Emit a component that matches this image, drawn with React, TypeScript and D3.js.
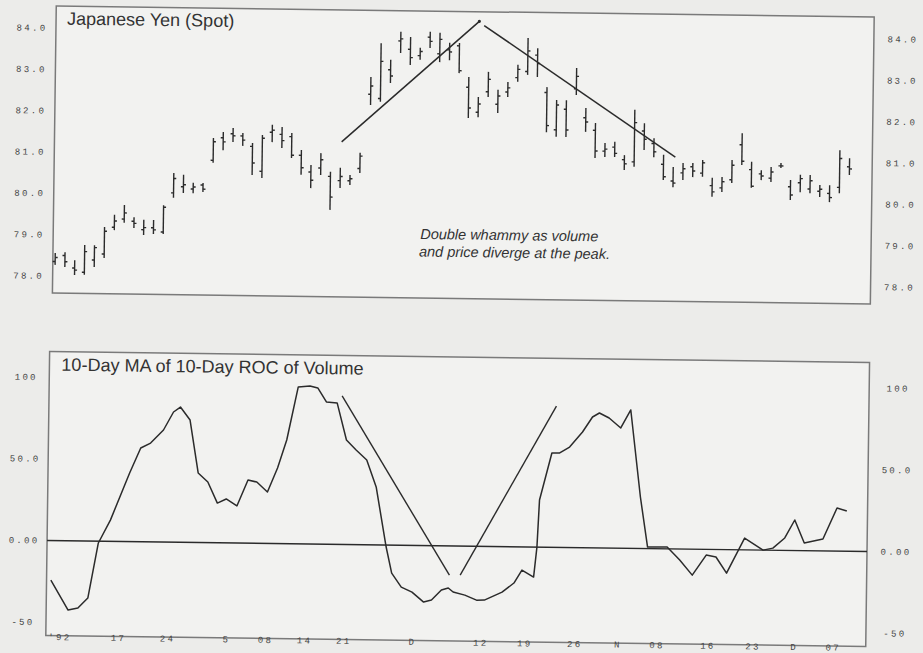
import * as d3 from "d3";

const WIDTH = 923;
const HEIGHT = 653;
// the scanned page sits a little crooked, so the whole drawing is turned a bit
const TILT = 0.77;

// Japanese Yen (Spot) daily bars
const highs = [78.56, 78.58, 78.39, 78.76, 78.76, 79.2, 79.5, 79.74, 79.45, 79.39,
  79.39, 79.75, 80.53, 80.49, 80.3, 80.3, 81.39, 81.54, 81.64, 81.52,
  81.28, 81.48, 81.73, 81.68, 81.54, 81.13, 80.77, 81.06, 80.61, 80.71,
  80.54, 81.08, 82.92, 83.74, 83.34, 84.02, 83.9, 83.64, 84.03, 84.01,
  83.77, 83.77, 82.95, 82.47, 83.08, 82.65, 82.84, 83.26, 83.91, 83.67,
  82.73, 82.42, 82.42, 83.2, 82.24, 81.88, 81.4, 81.43, 81.11, 82.21,
  81.89, 81.53, 81.13, 80.84, 80.94, 80.94, 81.02, 80.59, 80.61, 81.03,
  81.68, 80.99, 80.79, 80.87, 80.97, 80.56, 80.69, 80.69, 80.45, 80.45,
  81.3, 81.11];
const lows = [78.27, 78.22, 78.03, 78.04, 78.23, 78.45, 79.13, 79.31, 79.19, 79.02,
  79.05, 79.05, 79.93, 80.05, 80.05, 80.08, 80.79, 81.1, 81.3, 81.21,
  80.51, 80.44, 81.31, 81.17, 80.93, 80.53, 80.21, 80.53, 79.69, 80.22,
  80.3, 80.59, 82.24, 82.32, 82.78, 83.51, 83.22, 83.35, 83.64, 83.3,
  83.35, 83.04, 81.96, 81.98, 82.47, 82.09, 82.48, 82.85, 83.02, 82.97,
  81.64, 81.53, 81.53, 82.55, 81.66, 81.03, 81.06, 81.06, 80.75, 80.83,
  81.24, 81.07, 80.52, 80.35, 80.53, 80.6, 80.61, 80.13, 80.25, 80.47,
  80.91, 80.36, 80.55, 80.51, 80.85, 80.08, 80.27, 80.25, 80.16, 80.04,
  80.26, 80.7];
const opens = [78.35, 78.5, 78.2, 78.1, 78.4, 78.55, 79.2, 79.4, 79.35, 79.15,
  79.2, 79.1, 80.05, 80.2, 80.15, 80.25, 80.85, 81.4, 81.5, 81.45,
  81.2, 80.6, 81.55, 81.5, 81.45, 81.0, 80.6, 80.7, 80.5, 80.4,
  80.4, 80.7, 82.5, 82.4, 83.1, 83.8, 83.6, 83.45, 83.9, 83.5,
  83.6, 83.7, 82.7, 82.1, 82.6, 82.3, 82.6, 82.95, 83.1, 83.5,
  82.6, 81.7, 82.2, 82.7, 82.0, 81.7, 81.2, 81.3, 81.0, 80.95,
  81.7, 81.4, 80.9, 80.5, 80.7, 80.85, 80.7, 80.4, 80.35, 80.55,
  81.4, 80.8, 80.7, 80.6, 80.9, 80.4, 80.5, 80.35, 80.3, 80.25,
  80.4, 80.9];
const closes = [78.45, 78.35, 78.15, 78.6, 78.7, 79.1, 79.35, 79.55, 79.3, 79.2,
  79.15, 79.7, 80.4, 80.25, 80.2, 80.15, 81.3, 81.3, 81.45, 81.35,
  80.8, 81.4, 81.6, 81.35, 81.0, 80.7, 80.4, 80.9, 80.0, 80.5,
  80.45, 81.0, 82.7, 83.3, 82.95, 83.85, 83.4, 83.55, 83.8, 83.85,
  83.55, 83.1, 82.2, 82.3, 82.9, 82.5, 82.7, 83.15, 83.6, 83.3,
  81.8, 82.3, 81.7, 83.0, 81.9, 81.2, 81.25, 81.15, 80.9, 81.9,
  81.5, 81.2, 80.6, 80.45, 80.8, 80.75, 80.95, 80.25, 80.5, 80.9,
  81.0, 80.4, 80.65, 80.75, 80.9, 80.2, 80.6, 80.55, 80.35, 80.15,
  81.1, 80.85];

// 10-Day MA of 10-Day ROC of Volume, read at the line's corners (day, value)
const rocDay = [0, 1.8, 2.8, 3.8, 4.8, 6, 7.9, 9, 10, 11.3, 12.3, 13, 14, 14.9, 15.9, 16.9,
  17.8, 18.9, 20, 20.9, 22, 23, 23.9, 25, 26.2, 27, 27.9, 29, 30, 31, 32.1, 33.1,
  34.2, 34.8, 35.8, 36.9, 38.1, 38.9, 39.9, 40.6, 41.1, 42.3, 43.5, 44.3, 46.1,
  47.3, 48.1, 49.3, 49.6, 49.8, 51, 51.8, 52.8, 54.1, 55.1, 55.8, 56.8, 58, 59,
  60.1, 60.9, 62.9, 64.2, 65.5, 66.9, 67.9, 69, 70.8, 72.7, 73.7, 74.9, 75.9,
  76.9, 78.8, 80.2, 81.2];
const rocValue = [-24.2, -42.4, -41.1, -34.9, -1.1, 13, 42, 57.4, 60.5, 68.6, 79.7, 82.8,
  74.9, 42.6, 37.1, 24.3, 26.9, 22.7, 38.7, 37.5, 31.5, 46.3, 63.5, 96, 96.7, 95.6,
  87.1, 86.6, 64, 57.9, 51.9, 35.5, -1.2, -17.1, -25.6, -28.6, -34.6, -33.3, -27.1,
  -25.8, -28.2, -30, -33, -32.9, -27.9, -22.2, -14.2, -18.4, 0, 28.8, 57.7, 57.8,
  61.5, 70.8, 80.1, 82.6, 79.6, 73.6, 84.7, 31.5, 0.9, 1.1, -6.8, -15.9, -3.5,
  -4.6, -14.4, 7.2, 0, 1.3, 7.6, 18.7, 4.7, 7.3, 26.4, 24.6];

// hand-drawn trend lines (day, value)
const priceUpLine: [number, number][] = [[29.1, 81.34], [43, 84.3]];
const priceDownLine: [number, number][] = [[43.5, 84.2], [63.2, 81.08]];
const rocDownLine: [number, number][] = [[29.5, 90.9], [40.7, -17.9]];
const rocUpLine: [number, number][] = [[41.8, -17.8], [51.4, 86.5]];

const priceTicks = [84, 83, 82, 81, 80, 79, 78];
const rocTicks = [100, 50, 0, -50];
const rocTickLabels = ["100", "50.0", "0.00", "-50"];
const dateTickDays = [1, 7, 12, 18, 22, 26, 30, 37, 44, 48.5, 53.6, 58, 62, 67.2, 71.8, 76, 80];
const dateTickLabels = ["'92", "17", "24", "5", "08", "14", "21", "D", "12", "19", "26", "N",
  "08", "16", "23", "D", "07"];

const TOP = { left: 52, right: 870, top: 11.5, bottom: 298.5 };
const BOTTOM = { left: 50, right: 870, top: 357, bottom: 641 };

const INK = "#2b2b2b";
const FRAME = "#7a7a7a";
const SANS = "Liberation Sans, Arial, sans-serif";
const tickFont = { fontFamily: "Liberation Mono, monospace", fontSize: 9, letterSpacing: 2.3, fill: "#454545" };

const App = () => {
  const xScale = d3.scaleLinear().domain([0, 81]).range([54.3, 847.3]);
  const yPrice = d3.scaleLinear().domain([78, 84]).range([281.5, 33.5]);
  const yRoc = d3.scaleLinear().domain([-50, 100]).range([627.7, 382.7]);

  const rocLine = d3
    .line<number>()
    .x((d, i) => xScale(rocDay[i]))
    .y((d) => yRoc(d));

  const priceSeg = d3
    .line<[number, number]>()
    .x((d) => xScale(d[0]))
    .y((d) => yPrice(d[1]));
  const rocSeg = d3
    .line<[number, number]>()
    .x((d) => xScale(d[0]))
    .y((d) => yRoc(d[1]));

  const bars = highs.map((h, i) => {
    const x = xScale(i);
    return (
      <g key={i} stroke={INK} strokeWidth={1.4}>
        <line x1={x} x2={x} y1={yPrice(h)} y2={yPrice(lows[i])} />
        <line x1={x - 2.5} x2={x} y1={yPrice(opens[i])} y2={yPrice(opens[i])} />
        <line x1={x} x2={x + 2.5} y1={yPrice(closes[i])} y2={yPrice(closes[i])} />
      </g>
    );
  });

  return (
    <svg
      width={WIDTH}
      height={HEIGHT}
      style={{ position: "absolute", left: 0, top: 0, display: "block" }}
    >
      <rect width={WIDTH} height={HEIGHT} fill="#ececea" />
      <g transform={`rotate(${TILT} 461 326)`}>
        {/* price panel */}
        <rect
          x={TOP.left}
          y={TOP.top}
          width={TOP.right - TOP.left}
          height={TOP.bottom - TOP.top}
          fill="#f2f2f0"
          stroke={FRAME}
          strokeWidth={1.5}
        />
        <text x={63} y={30} fontFamily={SANS} fontSize={18} fill="#333">
          Japanese Yen (Spot)
        </text>
        {priceTicks.map((t) => (
          <g key={t}>
            <text x={28} y={yPrice(t) + 3} textAnchor="middle" {...tickFont}>
              {t.toFixed(1)}
            </text>
            <text x={899} y={yPrice(t) + 3} textAnchor="middle" {...tickFont}>
              {t.toFixed(1)}
            </text>
          </g>
        ))}
        {bars}
        <path d={priceSeg(priceUpLine) ?? ""} stroke={INK} strokeWidth={1.5} fill="none" />
        <path d={priceSeg(priceDownLine) ?? ""} stroke={INK} strokeWidth={1.5} fill="none" />
        <circle cx={xScale(priceUpLine[1][0])} cy={yPrice(priceUpLine[1][1])} r={1.6} fill={INK} />
        <g fontFamily={SANS} fontStyle="italic" fontSize={14.5} fill="#333">
          <text x={419} y={239.5}>Double whammy as volume</text>
          <text x={418} y={257}>and price diverge at the peak.</text>
        </g>

        {/* volume ROC panel */}
        <rect
          x={BOTTOM.left}
          y={BOTTOM.top}
          width={BOTTOM.right - BOTTOM.left}
          height={BOTTOM.bottom - BOTTOM.top}
          fill="#f2f2f0"
          stroke={FRAME}
          strokeWidth={1.5}
        />
        <text x={62} y={376} fontFamily={SANS} fontSize={18} fill="#333">
          10-Day MA of 10-Day ROC of Volume
        </text>
        {rocTicks.map((t, i) => (
          <g key={t}>
            <text x={27} y={yRoc(t) + 3} textAnchor="middle" {...tickFont}>
              {rocTickLabels[i]}
            </text>
            <text x={899} y={yRoc(t) + 3} textAnchor="middle" {...tickFont}>
              {rocTickLabels[i]}
            </text>
          </g>
        ))}
        <line
          x1={BOTTOM.left}
          x2={BOTTOM.right}
          y1={yRoc(0)}
          y2={yRoc(0)}
          stroke={INK}
          strokeWidth={1.4}
        />
        <path d={rocLine(rocValue) ?? ""} stroke={INK} strokeWidth={1.5} fill="none" strokeLinejoin="round" />
        <path d={rocSeg(rocDownLine) ?? ""} stroke={INK} strokeWidth={1.4} fill="none" />
        <path d={rocSeg(rocUpLine) ?? ""} stroke={INK} strokeWidth={1.4} fill="none" />
        {dateTickDays.map((d, i) => (
          <text key={i} x={xScale(d)} y={645.5} textAnchor="middle" {...tickFont}>
            {dateTickLabels[i]}
          </text>
        ))}
      </g>
    </svg>
  );
};

export default App;
